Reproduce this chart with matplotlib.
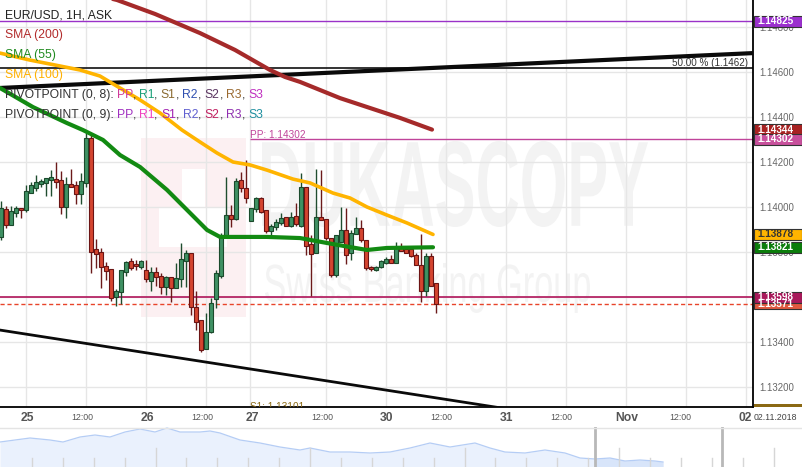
import numpy as np
import matplotlib
matplotlib.use('Agg')
import matplotlib.pyplot as plt
from matplotlib.patches import Rectangle, PathPatch
from matplotlib.textpath import TextPath
from matplotlib.font_manager import FontProperties
from matplotlib.transforms import Affine2D, blended_transform_factory

W, H = 803, 467
FONT = 'Liberation Sans'
plt.rcParams['font.family'] = [FONT, 'DejaVu Sans']

# ---------------- data (EUR/USD 1H) ----------------
opens = [1.13867, 1.13991, 1.13920, 1.13973, 1.13996, 1.13987, 1.14062, 1.14084, 1.14102, 1.14107,
         1.14120, 1.14124, 1.14120, 1.14000, 1.14102, 1.14098, 1.14058, 1.14107, 1.14307, 1.13813,
         1.13800, 1.13738, 1.13724, 1.13600, 1.13622, 1.13711, 1.13760, 1.13747, 1.13733, 1.13720,
         1.13671, 1.13711, 1.13693, 1.13644, 1.13689, 1.13640, 1.13680, 1.13760, 1.13796, 1.13556,
         1.13498, 1.13369, 1.13444, 1.13591, 1.13693, 1.13871, 1.13964, 1.13947, 1.14120, 1.14084,
         1.13938, 1.13991, 1.14040, 1.13987, 1.13893, 1.13911, 1.13929, 1.13956, 1.13916, 1.13960,
         1.13916, 1.14089, 1.13836, 1.13796, 1.13956, 1.13947, 1.13862, 1.13698, 1.13844, 1.13898,
         1.13796, 1.13880, 1.13907, 1.13853, 1.13733, 1.13720, 1.13733, 1.13751, 1.13769, 1.13751,
         1.13822, 1.13813, 1.13813, 1.13787, 1.13742, 1.13627, 1.13782, 1.13662]
highs = [1.14027, 1.14004, 1.14004, 1.14004, 1.13996, 1.14098, 1.14111, 1.14142, 1.14124, 1.14129,
         1.14164, 1.14200, 1.14160, 1.14133, 1.14169, 1.14116, 1.14151, 1.14329, 1.14324, 1.13858,
         1.13818, 1.13756, 1.13724, 1.13636, 1.13720, 1.13760, 1.13773, 1.13764, 1.13764, 1.13764,
         1.13733, 1.13733, 1.13707, 1.13693, 1.13689, 1.13751, 1.13840, 1.13809, 1.13796, 1.13627,
         1.13498, 1.13529, 1.13596, 1.13720, 1.13884, 1.14133, 1.14009, 1.14129, 1.14156, 1.14209,
         1.13996, 1.14044, 1.14044, 1.13987, 1.13924, 1.13947, 1.13973, 1.13956, 1.13978, 1.14018,
         1.14151, 1.14089, 1.13876, 1.14169, 1.14164, 1.13947, 1.13862, 1.13876, 1.14000, 1.13996,
         1.13898, 1.13956, 1.13942, 1.13853, 1.13738, 1.13738, 1.13764, 1.13778, 1.13787, 1.13844,
         1.13840, 1.13827, 1.13818, 1.13796, 1.13880, 1.13796, 1.13796, 1.13662]
lows = [1.13853, 1.13907, 1.13920, 1.13956, 1.13951, 1.13978, 1.14062, 1.14071, 1.14089, 1.14049,
        1.14049, 1.14084, 1.13969, 1.13951, 1.14089, 1.14013, 1.14013, 1.14089, 1.13707, 1.13729,
        1.13640, 1.13676, 1.13582, 1.13560, 1.13569, 1.13693, 1.13720, 1.13720, 1.13724, 1.13667,
        1.13627, 1.13649, 1.13613, 1.13609, 1.13578, 1.13640, 1.13644, 1.13644, 1.13520, 1.13453,
        1.13356, 1.13369, 1.13440, 1.13551, 1.13684, 1.13871, 1.13911, 1.13942, 1.14067, 1.14018,
        1.13938, 1.13978, 1.13973, 1.13884, 1.13871, 1.13898, 1.13920, 1.13916, 1.13911, 1.13916,
        1.13911, 1.13787, 1.13604, 1.13796, 1.13942, 1.13853, 1.13689, 1.13689, 1.13844, 1.13747,
        1.13764, 1.13880, 1.13844, 1.13720, 1.13716, 1.13716, 1.13729, 1.13747, 1.13751, 1.13751,
        1.13804, 1.13796, 1.13778, 1.13742, 1.13578, 1.13604, 1.13649, 1.13529]
closes = [1.13996, 1.13920, 1.13982, 1.13996, 1.13987, 1.14071, 1.14098, 1.14111, 1.14116, 1.14129,
          1.14133, 1.14111, 1.14000, 1.14102, 1.14089, 1.14058, 1.14116, 1.14307, 1.13800, 1.13791,
          1.13733, 1.13716, 1.13596, 1.13627, 1.13720, 1.13756, 1.13729, 1.13738, 1.13760, 1.13680,
          1.13711, 1.13689, 1.13644, 1.13689, 1.13640, 1.13684, 1.13769, 1.13796, 1.13556, 1.13489,
          1.13364, 1.13444, 1.13573, 1.13707, 1.13876, 1.13964, 1.13947, 1.14116, 1.14084, 1.14040,
          1.13996, 1.14040, 1.13978, 1.13893, 1.13916, 1.13933, 1.13951, 1.13916, 1.13956, 1.13924,
          1.14089, 1.13827, 1.13791, 1.13956, 1.13942, 1.13862, 1.13698, 1.13876, 1.13898, 1.13787,
          1.13884, 1.13907, 1.13853, 1.13729, 1.13724, 1.13733, 1.13760, 1.13769, 1.13751, 1.13822,
          1.13804, 1.13796, 1.13782, 1.13742, 1.13627, 1.13782, 1.13649, 1.13569]

# moving averages (bar index, price)
sma200_x = [20.8, 23.2, 30.8, 39.8, 46.8, 53.8, 56.8, 59.8, 67.8, 73.8, 79.8, 86.2]
sma200_y = [1.14933, 1.14920, 1.14858, 1.14773, 1.14698, 1.14609, 1.14578, 1.14556, 1.14484, 1.14440, 1.14396, 1.14344]
sma100_x = [-0.2, 5.8, 15.8, 19.8, 22.8, 27.8, 31.8, 36.2, 39.8, 43.2, 46.4, 49.8, 53.2, 58.4, 61.8,
            66.4, 69.8, 73.2, 77.2, 81.2, 86.4]
sma100_y = [1.14684, 1.14653, 1.14609, 1.14582, 1.14542, 1.14476, 1.14418, 1.14342, 1.14289, 1.14240,
            1.14200, 1.14187, 1.14164, 1.14124, 1.14107, 1.14062, 1.14040, 1.14000, 1.13964, 1.13929, 1.13878]
sma55_x = [-0.2, 6.4, 13.2, 16.4, 20.4, 23.8, 27.8, 33.2, 37.2, 41.2, 43.8, 49.8, 53.2, 59.8, 65.2,
           69.8, 73.2, 77.2, 86.4]
sma55_y = [1.14529, 1.14444, 1.14373, 1.14342, 1.14298, 1.14231, 1.14178, 1.14076, 1.13987, 1.13898,
           1.13867, 1.13867, 1.13867, 1.13862, 1.13840, 1.13822, 1.13809, 1.13818, 1.13821]

# trend lines (bar index, price)
trend_up_x = [-0.2, 150.4]
trend_up_y = [1.14529, 1.14684]
trend_dn_x = [-0.2, 98.8, 150.4]
trend_dn_y = [1.13453, 1.13111, 1.12933]

fib50 = 1.1462
level_top = 1.14825
pivot_pp = 1.14302
pivot_s1 = 1.13101
level_ask = 1.13598
last_bid = 1.13571
sma200_last, sma100_last, sma55_last = 1.14344, 1.13878, 1.13821

y_ticks = [1.132, 1.134, 1.136, 1.138, 1.140, 1.142, 1.144, 1.146, 1.148]
x_grid = [5, 17, 29, 41, 49.8, 65, 77, 89, 101, 113, 125, 137, 149]
x_labels = ['25', '12:00', '26', '12:00', '27', '12:00', '30', '12:00', '31', '12:00', 'Nov', '12:00', '02']
x_label_pos = [5.2, 16.2, 29.2, 40.2, 50.2, 64.2, 77.2, 88.0, 101.2, 112.0, 125.2, 135.8, 148.8]

# navigator overview (x in px, height of area)
nav_x = [0, 30, 50, 63, 80, 95, 110, 125, 140, 155, 167, 180, 200, 210, 220, 240, 260, 280, 300, 310,
         330, 350, 370, 390, 410, 430, 450, 475, 490, 505, 525, 545, 565, 580, 595, 610, 625, 640, 655, 663]
nav_level = [25, 29, 27, 25, 30, 32, 30, 35, 38, 35, 39, 35, 35, 36, 34, 27, 24, 20, 17, 19,
             15, 15, 14, 15, 19, 24, 20, 24, 19, 15, 14, 17, 14, 9, 8, 9, 6, 7, 6, 5]

# ---------------- figure ----------------
fig = plt.figure(figsize=(W / 100, H / 100), dpi=100, facecolor='white')
AX_H = 407
AX_W = 753
ax = fig.add_axes([0, 1 - AX_H / H, AX_W / W, AX_H / H])
PX = 22500.0  # px per price unit
ymax = 1.14920
ymin = ymax - AX_H / PX
ax.set_xlim(-0.2, 150.4)
ax.set_ylim(ymin, ymax)
ax.set_facecolor('white')

# watermark
ax.add_patch(Rectangle((0, 0), 1, 1, transform=Affine2D().scale(105, 179).translate(141, H - 317),
                       fc='#fcf0f2', ec='none', zorder=0.3))
ax.add_patch(Rectangle((0, 0), 1, 1, transform=Affine2D().scale(23, 39).translate(182, H - 208),
                       fc='white', ec='none', zorder=0.35))
ax.add_patch(Rectangle((0, 0), 1, 1, transform=Affine2D().scale(68, 39).translate(159, H - 247),
                       fc='white', ec='none', zorder=0.35))


def stretched_text(s, x0, ytop, x1, ybot, color, weight):
    tp = TextPath((0, 0), s, size=100, prop=FontProperties(family=FONT, weight=weight))
    ext = tp.get_extents()
    sx = (x1 - x0) / ext.width
    sy = (ybot - ytop) / ext.height
    tr = Affine2D().translate(-ext.x0, -ext.y0).scale(sx, sy).translate(x0, H - ybot)
    ax.add_patch(PathPatch(tp, transform=tr, fc=color, ec='none', zorder=0.4))


stretched_text('DUKASCOPY', 262, 141, 648, 227, '#f3f3f3', 'bold')
stretched_text('Swiss Banking Group', 265, 263, 590, 313, '#f3f3f3', 'normal')

# grid
for gx in x_grid:
    ax.axvline(gx, color='#e6e6e6', lw=1, zorder=1)
for gy in y_ticks:
    ax.axhline(gy, color='#e6e6e6', lw=1, zorder=1)

# horizontal levels
ax.axhline(level_top, color='#9a32c8', lw=1, zorder=2)
ax.axhline(fib50, color='#111111', lw=1.2, zorder=2)
ax.hlines(pivot_pp, 49.8, 150.4, color='#c0449a', lw=1, zorder=2)
ax.axhline(level_ask, color='#b0155a', lw=1.2, zorder=2)
ax.axhline(last_bid, color='#e8442a', lw=1, ls=(0, (3, 2)), zorder=2)

ax.text(149.4, fib50 + 2 / PX, '50.00 % (1.1462)', ha='right', va='baseline', fontsize=7.1,
        color='#333333', zorder=6)
ax.text(49.8, pivot_pp + 1.5 / PX, 'PP: 1.14302', ha='left', va='baseline', fontsize=7.2,
        color='#c0449a', zorder=6)
ax.text(49.8, pivot_s1 - 1 / PX, 'S1: 1.13101', ha='left', va='baseline', fontsize=7.2,
        color='#8b6914', zorder=6, clip_on=True)

# trend lines
ax.plot(trend_up_x, trend_up_y, color='#0a0a0a', lw=3, zorder=3.5, solid_capstyle='butt')
ax.plot(trend_dn_x, trend_dn_y, color='#0a0a0a', lw=2, zorder=3.5)

# candles
o = np.array(opens); h = np.array(highs); l = np.array(lows); c = np.array(closes)
x = np.arange(len(o))
up = c >= o
wick_col = np.where(up, '#1f4d2f', '#6b1a1a')
ax.vlines(x, l, h, colors=wick_col, lw=1, zorder=4)
body_bot = np.minimum(o, c)
body_h = np.maximum(np.abs(c - o), 0.00004)
ax.bar(x, body_h, bottom=body_bot, width=0.72,
       color=np.where(up, '#3f9164', '#d44530'),
       edgecolor=np.where(up, '#1b4a2c', '#6b1414'), linewidth=0.8, zorder=4.5)

# SMAs
ax.plot(sma200_x, sma200_y, color='#a52a2a', lw=3, zorder=5, solid_capstyle='round')
ax.plot(sma100_x, sma100_y, color='#ffb400', lw=2.6, zorder=5, solid_capstyle='round')
ax.plot(sma55_x, sma55_y, color='#128a12', lw=3, zorder=5, solid_capstyle='round')

# axes styling
for side in ['top', 'left']:
    ax.spines[side].set_visible(False)
ax.spines['right'].set_color('black'); ax.spines['right'].set_linewidth(1.3)
ax.spines['bottom'].set_color('black'); ax.spines['bottom'].set_linewidth(1.3)
ax.yaxis.tick_right()
ax.set_yticks(y_ticks)
ax.set_yticklabels([f'{v:.5f}' for v in y_ticks])
ax.tick_params(axis='y', length=0, pad=4.3, labelsize=6.9, labelcolor='#666666')
ax.set_xticks([])

bt = blended_transform_factory(ax.transData, ax.transAxes)
for lab, pos in zip(x_labels, x_label_pos):
    if lab == '12:00':
        ax.text(pos, -11 / AX_H, lab, transform=bt, ha='center', va='center', fontsize=6.3,
                color='#555555', clip_on=False)
    else:
        ax.text(pos, -11 / AX_H, lab, transform=bt, ha='center', va='center', fontsize=8.7,
                fontweight='bold', color='#555555', clip_on=False)
fig.text(754 / W, 1 - 418 / H, '02.11.2018', ha='left', va='center', fontsize=6.3, color='#444444')

# right-hand price boxes
rt = blended_transform_factory(ax.transAxes, ax.transData)


def price_box(price, label, fc, tc='white'):
    ax.add_patch(Rectangle((1 + 1 / AX_W, price - 5.5 / PX), 48 / AX_W, 11 / PX, transform=rt,
                           fc=fc, ec='#333333', lw=0.8, clip_on=False, zorder=20))
    ax.text(1 + 4 / AX_W, price, label, transform=rt, ha='left', va='center', fontsize=7.2,
            fontweight='bold', color=tc, zorder=21, clip_on=False)


price_box(level_top, f'{level_top:.5f}', '#9b2fce')
price_box(sma200_last, f'{sma200_last:.5f}', '#a82222')
price_box(pivot_pp, f'{pivot_pp:.5f}', '#c8509c')
price_box(sma100_last, f'{sma100_last:.5f}', '#ffb400', '#333333')
price_box(sma55_last, f'{sma55_last:.5f}', '#0b7d0b')
price_box(last_bid, f'{last_bid:.5f}', '#e05a40')
price_box(level_ask, f'{level_ask:.5f}', '#a8185a')
ax.add_patch(Rectangle((1 + 1 / AX_W, ymin), 48 / AX_W, pivot_s1 + 5.5 / PX - ymin, transform=rt,
                       fc='#8b6914', ec='none', clip_on=False, zorder=20))

# legend texts (top-left)
fs = 8.7
prop = FontProperties(family=FONT, size=fs)
renderer = fig.canvas.get_renderer()
bar_w = renderer.get_text_width_height_descent('|', prop, ismath=False)[0]


def segments(x_px, y_px, parts):
    prefix = ''
    for s, col in parts:
        off = 0.0
        if prefix:
            off = renderer.get_text_width_height_descent(prefix + '|', prop, ismath=False)[0] - bar_w
        fig.text((x_px + off) / W, 1 - y_px / H, s, color=col, fontproperties=prop,
                 ha='left', va='center', zorder=30)
        prefix += s


segments(5, 15, [('EUR/USD, 1H, ASK', '#222222')])
segments(5, 35, [('SMA (200)', '#b22b2b')])
segments(5, 55, [('SMA (55)', '#1f8a1f')])
segments(5, 75, [('SMA (100)', '#ffb000')])
k = '#333333'
segments(5, 95, [('PIVOTPOINT (0, 8): ', k), ('PP', '#d03a9a'), (', ', k), ('R1', '#1aa078'),
                 (', ', k), ('S1', '#8a6a30'), (', ', k), ('R2', '#3050b0'), (', ', k),
                 ('S2', '#5a3560'), (', ', k), ('R3', '#9a6a30'), (', ', k), ('S3', '#c030c0')])
segments(5, 115, [('PIVOTPOINT (0, 9): ', k), ('PP', '#a030c0'), (', ', k), ('R1', '#f040c0'),
                  (', ', k), ('S1', '#a020b0'), (', ', k), ('R2', '#6060d0'), (', ', k),
                  ('S2', '#c02060'), (', ', k), ('R3', '#9030b0'), (', ', k), ('S3', '#2090a0')])

# navigator
nav = fig.add_axes([0, 0, 1, 40 / H])
nav.set_xlim(0, W)
nav.set_ylim(0, 40)
nav.axis('off')
nx = np.array(nav_x, dtype=float)
nl = np.array(nav_level, dtype=float)
nav.fill_between(nx, 0, nl, color='#eaf1fd', lw=0)
nav.fill_between(nx, 0, nl, where=nx >= 595, color='#d8e5fa', lw=0)
nav.plot(nx, nl, color='#b5cdf5', lw=0.9)
for i, gx in enumerate(np.arange(32, W, 30.9)):
    nav.plot([gx, gx], [0, 19 if i % 5 == 4 else 9], color='#d6d6d6', lw=1)
nav.axvline(595, color='#b8b8b8', lw=2)
nav.axvline(722, color='#b8b8b8', lw=2)
nav.axhline(39.5, color='#e4e4e4', lw=1)

fig.savefig('out.png', dpi=100, facecolor='white')
